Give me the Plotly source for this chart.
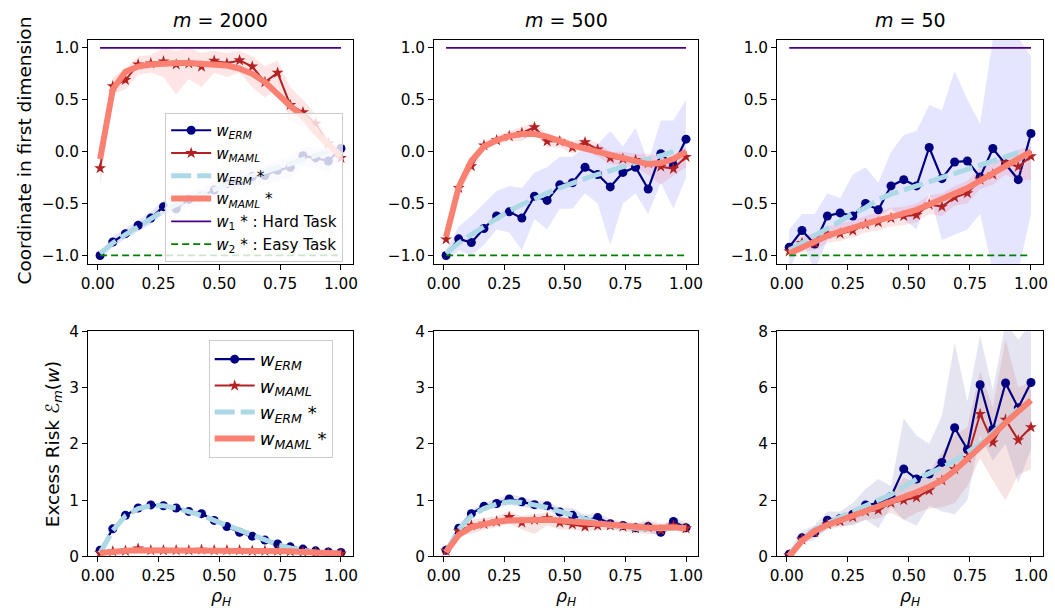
import plotly.graph_objects as go

# ---------------- data ----------------
RHO = [0.01, 0.0621, 0.1142, 0.1663, 0.2184, 0.2705, 0.3226, 0.3747, 0.4268, 0.4789,
       0.5311, 0.5832, 0.6353, 0.6874, 0.7395, 0.7916, 0.8437, 0.8958, 0.9479, 1.0]
RHO_ERM_STAR = RHO[:19]

TITLES = ["<i>m</i> = 2000", "<i>m</i> = 500", "<i>m</i> = 50"]
X_TICKS = [0.0, 0.25, 0.5, 0.75, 1.0]
Y_TICKS_TOP = [-1.0, -0.5, 0.0, 0.5, 1.0]
Y_TICKS_BOT = [0, 1, 2, 3, 4]
Y_TICKS_BOT_R = [0, 2, 4, 6, 8]
W1_STAR = 1.0   # hard task
W2_STAR = -1.0  # easy task

# top row: coordinate in first dimension
erm_2000 = [-1.0, -0.87, -0.79, -0.71, -0.64, -0.53, -0.55, -0.46, -0.43, -0.37, -0.31, -0.28, -0.24, -0.23, -0.18, -0.15, -0.04, -0.06, -0.09, 0.03]
erm_2000_lo = [-1.03, -0.92, -0.84, -0.77, -0.70, -0.60, -0.62, -0.53, -0.51, -0.45, -0.40, -0.37, -0.33, -0.32, -0.28, -0.25, -0.14, -0.16, -0.20, -0.06]
erm_2000_hi = [-0.97, -0.82, -0.74, -0.66, -0.58, -0.47, -0.48, -0.39, -0.35, -0.29, -0.22, -0.19, -0.15, -0.14, -0.08, -0.05, 0.05, 0.04, 0.02, 0.10]
erm_star_2000 = [-0.98, -0.88, -0.80, -0.72, -0.64, -0.57, -0.51, -0.46, -0.41, -0.36, -0.31, -0.27, -0.23, -0.19, -0.15, -0.11, -0.07, -0.04, 0.0]
maml_2000 = [-0.16, 0.63, 0.69, 0.84, 0.85, 0.87, 0.84, 0.85, 0.82, 0.875, 0.85, 0.88, 0.82, 0.67, 0.76, 0.45, 0.38, 0.27, 0.08, -0.06]
maml_2000_lo = [-0.33, 0.55, 0.60, 0.74, 0.76, 0.72, 0.55, 0.70, 0.62, 0.76, 0.72, 0.76, 0.62, 0.52, 0.62, 0.30, 0.25, 0.15, -0.02, -0.10]
maml_2000_hi = [0.05, 0.72, 0.80, 0.92, 0.93, 1.0, 0.97, 1.0, 0.95, 0.97, 0.95, 0.97, 0.92, 0.82, 0.88, 0.62, 0.50, 0.36, 0.12, 0.0]
maml_star_2000 = [-0.07, 0.60, 0.77, 0.82, 0.84, 0.85, 0.855, 0.855, 0.85, 0.845, 0.83, 0.80, 0.75, 0.67, 0.55, 0.44, 0.34, 0.19, 0.07, -0.04]

erm_500 = [-1.0, -0.84, -0.875, -0.74, -0.62, -0.58, -0.64, -0.43, -0.47, -0.32, -0.30, -0.15, -0.22, -0.34, -0.20, -0.15, -0.36, -0.02, -0.13, 0.12]
erm_500_lo = [-1.05, -0.95, -1.0, -0.9, -0.75, -0.78, -0.95, -0.65, -0.75, -0.55, -0.55, -0.40, -0.50, -0.90, -0.50, -0.40, -0.60, -0.30, -0.55, -0.25]
erm_500_hi = [-0.95, -0.72, -0.62, -0.50, -0.38, -0.33, -0.35, -0.20, -0.15, -0.05, -0.05, 0.05, 0.07, 0.20, 0.05, 0.23, -0.10, 0.30, 0.30, 0.50]
erm_star_500 = [-0.98, -0.88, -0.80, -0.72, -0.64, -0.57, -0.51, -0.45, -0.40, -0.35, -0.30, -0.26, -0.22, -0.18, -0.14, -0.11, -0.07, -0.04, 0.0]
maml_500 = [-0.845, -0.35, -0.14, 0.06, 0.11, 0.15, 0.18, 0.235, 0.10, 0.10, 0.04, 0.09, 0.02, -0.06, -0.07, -0.08, -0.11, -0.145, -0.165, -0.05]
maml_500_lo = [-0.89, -0.40, -0.20, 0.01, 0.07, 0.10, 0.10, 0.18, 0.04, 0.04, -0.02, 0.03, -0.05, -0.12, -0.14, -0.15, -0.22, -0.32, -0.23, -0.15]
maml_500_hi = [-0.80, -0.30, -0.08, 0.10, 0.15, 0.20, 0.24, 0.28, 0.16, 0.15, 0.10, 0.13, 0.08, 0.0, 0.0, -0.02, -0.02, -0.05, -0.10, 0.05]
maml_star_500 = [-0.82, -0.34, -0.09, 0.05, 0.11, 0.15, 0.17, 0.17, 0.145, 0.10, 0.06, 0.03, 0.0, -0.04, -0.07, -0.10, -0.12, -0.11, -0.07, 0.0]

erm_50 = [-0.92, -0.76, -0.89, -0.62, -0.59, -0.62, -0.50, -0.56, -0.33, -0.27, -0.33, 0.04, -0.26, -0.10, -0.09, -0.245, 0.03, -0.12, -0.27, 0.175]
erm_50_lo = [-1.15, -0.85, -1.15, -0.85, -0.80, -0.70, -0.68, -0.63, -0.55, -0.65, -0.75, -0.40, -0.85, -0.80, -0.75, -0.60, -1.15, -1.15, -1.15, -0.60]
erm_50_hi = [-0.75, -0.60, -0.60, -0.40, -0.45, -0.22, -0.15, -0.30, 0.0, 0.16, 0.20, 0.45, 0.40, 0.78, 0.50, 0.27, 1.08, 1.10, 1.10, 0.92]
erm_star_50 = [-0.95, -0.88, -0.80, -0.73, -0.66, -0.60, -0.54, -0.46, -0.41, -0.37, -0.33, -0.29, -0.24, -0.20, -0.16, -0.12, -0.08, -0.04, -0.01]
maml_50 = [-0.96, -0.88, -0.885, -0.79, -0.79, -0.76, -0.70, -0.68, -0.64, -0.62, -0.61, -0.51, -0.53, -0.44, -0.40, -0.27, -0.22, -0.105, -0.145, -0.045]
maml_50_lo = [-1.02, -0.97, -0.95, -0.88, -0.86, -0.83, -0.78, -0.76, -0.72, -0.71, -0.68, -0.60, -0.62, -0.52, -0.50, -0.36, -0.32, -0.22, -0.28, -0.27]
maml_50_hi = [-0.90, -0.82, -0.78, -0.72, -0.69, -0.66, -0.62, -0.58, -0.54, -0.53, -0.50, -0.42, -0.40, -0.33, -0.28, -0.15, -0.12, -0.03, 0.02, 0.05]
maml_star_50 = [-0.98, -0.92, -0.86, -0.81, -0.77, -0.73, -0.69, -0.66, -0.63, -0.60, -0.56, -0.51, -0.46, -0.41, -0.35, -0.28, -0.21, -0.14, -0.07, 0.0]

# bottom row: excess risk
risk_erm_2000 = [0.11, 0.49, 0.73, 0.86, 0.915, 0.90, 0.86, 0.80, 0.76, 0.64, 0.53, 0.43, 0.36, 0.29, 0.22, 0.17, 0.13, 0.10, 0.08, 0.07]
risk_erm_2000_lo = [0.09, 0.46, 0.70, 0.83, 0.88, 0.87, 0.83, 0.77, 0.73, 0.61, 0.50, 0.40, 0.33, 0.26, 0.19, 0.14, 0.11, 0.08, 0.06, 0.05]
risk_erm_2000_hi = [0.13, 0.52, 0.76, 0.89, 0.95, 0.93, 0.89, 0.83, 0.79, 0.67, 0.56, 0.46, 0.39, 0.32, 0.25, 0.20, 0.15, 0.12, 0.10, 0.09]
risk_erm_star_2000 = [0.06, 0.46, 0.72, 0.85, 0.90, 0.90, 0.86, 0.80, 0.73, 0.64, 0.55, 0.46, 0.37, 0.29, 0.21, 0.15, 0.10, 0.07, 0.05]
risk_maml_2000 = [0.06, 0.09, 0.10, 0.14, 0.11, 0.11, 0.11, 0.11, 0.12, 0.11, 0.11, 0.11, 0.10, 0.10, 0.10, 0.09, 0.08, 0.07, 0.06, 0.05]
risk_maml_2000_lo = [0.04, 0.07, 0.08, 0.10, 0.09, 0.09, 0.09, 0.09, 0.09, 0.09, 0.09, 0.09, 0.08, 0.08, 0.08, 0.07, 0.06, 0.05, 0.04, 0.04]
risk_maml_2000_hi = [0.08, 0.11, 0.12, 0.17, 0.13, 0.13, 0.13, 0.13, 0.15, 0.13, 0.13, 0.13, 0.12, 0.12, 0.12, 0.11, 0.10, 0.09, 0.08, 0.07]
risk_maml_star_2000 = [0.06, 0.09, 0.10, 0.11, 0.11, 0.11, 0.11, 0.11, 0.11, 0.11, 0.10, 0.10, 0.10, 0.10, 0.09, 0.09, 0.08, 0.07, 0.06, 0.05]

risk_erm_500 = [0.11, 0.50, 0.76, 0.89, 0.94, 1.02, 0.97, 0.92, 0.90, 0.79, 0.73, 0.64, 0.69, 0.58, 0.55, 0.51, 0.53, 0.43, 0.62, 0.51]
risk_erm_500_lo = [0.08, 0.44, 0.70, 0.82, 0.86, 0.92, 0.88, 0.84, 0.82, 0.70, 0.62, 0.55, 0.60, 0.50, 0.48, 0.44, 0.44, 0.35, 0.54, 0.42]
risk_erm_500_hi = [0.14, 0.56, 0.82, 0.96, 1.02, 1.10, 1.06, 1.00, 0.98, 0.88, 0.86, 0.74, 0.78, 0.66, 0.62, 0.58, 0.62, 0.52, 0.70, 0.60]
risk_erm_star_500 = [0.08, 0.48, 0.72, 0.85, 0.93, 0.97, 0.96, 0.92, 0.87, 0.80, 0.73, 0.66, 0.60, 0.55, 0.52, 0.50, 0.49, 0.49, 0.50]
risk_maml_500 = [0.10, 0.45, 0.55, 0.58, 0.62, 0.70, 0.60, 0.65, 0.68, 0.60, 0.57, 0.53, 0.55, 0.55, 0.53, 0.50, 0.52, 0.47, 0.55, 0.50]
risk_maml_500_lo = [0.08, 0.38, 0.40, 0.48, 0.52, 0.58, 0.48, 0.40, 0.55, 0.48, 0.48, 0.45, 0.46, 0.48, 0.45, 0.42, 0.40, 0.40, 0.48, 0.40]
risk_maml_500_hi = [0.12, 0.50, 0.65, 0.68, 0.72, 0.80, 0.72, 0.75, 0.78, 0.70, 0.66, 0.62, 0.64, 0.62, 0.60, 0.58, 0.65, 0.58, 0.62, 0.58]
risk_maml_star_500 = [0.08, 0.38, 0.52, 0.58, 0.62, 0.64, 0.65, 0.65, 0.65, 0.64, 0.62, 0.60, 0.58, 0.56, 0.54, 0.52, 0.51, 0.51, 0.52, 0.50]

risk_erm_50 = [0.08, 0.66, 0.85, 1.29, 1.35, 1.50, 1.83, 1.89, 2.13, 3.11, 2.75, 2.93, 3.34, 4.57, 3.80, 6.10, 4.51, 6.16, 5.28, 6.18]
risk_erm_50_lo = [0.0, 0.45, 0.6, 1.0, 1.1, 1.1, 1.3, 1.0, 1.75, 1.3, 1.1, 1.8, 1.6, 1.5, 2.0, 4.3, 3.4, 4.0, 2.6, 3.8]
risk_erm_50_hi = [0.2, 0.9, 1.1, 1.6, 1.6, 1.9, 2.4, 2.75, 2.5, 4.9, 4.3, 4.0, 5.0, 7.6, 5.5, 7.85, 5.9, 8.3, 7.7, 8.3]
risk_erm_star_50 = [0.05, 0.60, 0.95, 1.20, 1.40, 1.60, 1.82, 2.00, 2.20, 2.48, 2.75, 2.95, 3.15, 3.40, 3.68, 4.00, 4.40, 4.85, 5.25]
risk_maml_50 = [0.05, 0.60, 0.85, 1.15, 1.25, 1.40, 1.60, 1.65, 1.90, 2.00, 2.10, 2.35, 2.70, 3.10, 3.50, 5.06, 4.05, 4.86, 4.13, 4.59]
risk_maml_50_lo = [0.0, 0.45, 0.70, 0.95, 1.05, 1.15, 1.30, 1.35, 1.55, 1.30, 1.55, 1.70, 1.75, 1.90, 2.50, 3.50, 2.70, 2.00, 2.90, 3.10]
risk_maml_50_hi = [0.15, 0.75, 1.0, 1.35, 1.45, 1.65, 1.85, 1.95, 2.25, 2.80, 2.60, 3.00, 3.70, 4.30, 4.60, 6.60, 5.30, 7.70, 6.00, 6.20]
risk_maml_star_50 = [0.0, 0.55, 0.90, 1.12, 1.28, 1.45, 1.62, 1.77, 1.92, 2.08, 2.28, 2.48, 2.70, 3.05, 3.45, 3.85, 4.30, 4.75, 5.15, 5.55]

# ---------------- style ----------------
FONT = "DejaVu Sans"
C_ERM, C_MAML, C_ERM_S, C_MAML_S = "#000080", "#b22222", "#add8e6", "#fa8072"
C_W1, C_W2 = "#4b0082", "#008000"
W, H = 1055, 613

COLS_PX = [(82, 350), (432, 699), (779, 1048)]
ROWS_PX = [(32, 263), (332, 564)]

panels = [
    dict(erm=erm_2000, lo=erm_2000_lo, hi=erm_2000_hi, es=erm_star_2000, maml=maml_2000, mlo=maml_2000_lo, mhi=maml_2000_hi, ms=maml_star_2000),
    dict(erm=erm_500, lo=erm_500_lo, hi=erm_500_hi, es=erm_star_500, maml=maml_500, mlo=maml_500_lo, mhi=maml_500_hi, ms=maml_star_500),
    dict(erm=erm_50, lo=erm_50_lo, hi=erm_50_hi, es=erm_star_50, maml=maml_50, mlo=maml_50_lo, mhi=maml_50_hi, ms=maml_star_50),
    dict(erm=risk_erm_2000, lo=risk_erm_2000_lo, hi=risk_erm_2000_hi, es=risk_erm_star_2000, maml=risk_maml_2000, mlo=risk_maml_2000_lo, mhi=risk_maml_2000_hi, ms=risk_maml_star_2000),
    dict(erm=risk_erm_500, lo=risk_erm_500_lo, hi=risk_erm_500_hi, es=risk_erm_star_500, maml=risk_maml_500, mlo=risk_maml_500_lo, mhi=risk_maml_500_hi, ms=risk_maml_star_500),
    dict(erm=risk_erm_50, lo=risk_erm_50_lo, hi=risk_erm_50_hi, es=risk_erm_star_50, maml=risk_maml_50, mlo=risk_maml_50_lo, mhi=risk_maml_50_hi, ms=risk_maml_star_50),
]

NAMES = {
    "erm": "<i>w<sub>ERM</sub></i>",
    "maml": "<i>w<sub>MAML</sub></i>",
    "es": "<i>w<sub>ERM</sub></i> *",
    "ms": "<i>w<sub>MAML</sub></i> *",
    "w1": "<i>w</i><sub>1</sub> * : Hard Task",
    "w2": "<i>w</i><sub>2</sub> * : Easy Task",
}

fig = go.Figure()
layout = {}

for i, p in enumerate(panels):
    k = i + 1
    xa, ya = ("x" if k == 1 else f"x{k}"), ("y" if k == 1 else f"y{k}")
    top = i < 3
    band_erm = "rgba(0,0,255,0.1)" if top else "rgba(0,0,128,0.1)"
    band_maml = "rgba(255,0,0,0.1)" if top else "rgba(178,34,34,0.12)"
    leg = "legend" if k == 1 else ("legend2" if k == 4 else None)
    show = leg is not None

    def add(tr, key=None):
        tr.update(xaxis=xa, yaxis=ya)
        if show and key is not None:
            tr.update(showlegend=True, name=NAMES[key], legend=leg)
        else:
            tr.update(showlegend=False)
        fig.add_trace(tr)

    add(go.Scatter(x=RHO + RHO[::-1], y=p["hi"] + p["lo"][::-1], fill="toself",
                   fillcolor=band_erm, line=dict(width=0), mode="lines", hoverinfo="skip"))
    add(go.Scatter(x=RHO + RHO[::-1], y=p["mhi"] + p["mlo"][::-1], fill="toself",
                   fillcolor=band_maml, line=dict(width=0), mode="lines", hoverinfo="skip"))
    add(go.Scatter(x=RHO, y=p["erm"], mode="lines+markers",
                   line=dict(color=C_ERM, width=2.2), marker=dict(symbol="circle", size=9, color=C_ERM)), "erm")
    add(go.Scatter(x=RHO, y=p["maml"], mode="lines+markers",
                   line=dict(color=C_MAML, width=2), marker=dict(symbol="star", size=9, color=C_MAML)), "maml")
    add(go.Scatter(x=RHO_ERM_STAR, y=p["es"], mode="lines",
                   line=dict(color=C_ERM_S, width=5, dash="20px,6px")), "es")
    add(go.Scatter(x=RHO, y=p["ms"], mode="lines",
                   line=dict(color=C_MAML_S, width=6)), "ms")
    if top:
        add(go.Scatter(x=RHO, y=[W1_STAR] * len(RHO), mode="lines",
                       line=dict(color=C_W1, width=1.8)), "w1")
        add(go.Scatter(x=RHO, y=[W2_STAR] * len(RHO), mode="lines",
                       line=dict(color=C_W2, width=1.8, dash="7px,4px")), "w2")

    c0, c1 = COLS_PX[i % 3]
    r0, r1 = ROWS_PX[0 if top else 1]
    axis_common = dict(showline=True, mirror=True, linecolor="black", linewidth=1,
                       ticks="outside", ticklen=5, tickcolor="black", showgrid=False,
                       zeroline=False, tickfont=dict(family=FONT, size=15.3, color="black"))
    layout["xaxis" if k == 1 else f"xaxis{k}"] = dict(
        axis_common, domain=[c0 / W, c1 / W], range=[-0.0395, 1.0495],
        tickvals=X_TICKS, tickformat=".2f", anchor=ya)
    if top:
        yr, yt, yf = [-1.085, 1.075], Y_TICKS_TOP, ".1f"
    else:
        yr = [0, 8] if i == 5 else [0, 4]
        yt = Y_TICKS_BOT_R if i == 5 else Y_TICKS_BOT
        yf = "d"
    layout["yaxis" if k == 1 else f"yaxis{k}"] = dict(
        axis_common, domain=[1 - r1 / H, 1 - r0 / H], range=yr,
        tickvals=yt, tickformat=yf, anchor=xa)

annotations = []
for j, t in enumerate(TITLES):
    c0, c1 = COLS_PX[j]
    annotations.append(dict(text=t, x=(c0 + c1) / 2 / W, y=1 - 11 / H, xref="paper", yref="paper",
                            showarrow=False, font=dict(family=FONT, size=19, color="black"),
                            xanchor="center", yanchor="middle"))
    annotations.append(dict(text="<i>ρ<sub>H</sub></i>", x=(c0 + c1) / 2 / W, y=1 - 606 / H,
                            xref="paper", yref="paper", showarrow=False,
                            font=dict(family=FONT, size=17.5, color="black"),
                            xanchor="center", yanchor="middle"))
annotations.append(dict(text="Coordinate in first dimension", x=18 / W, y=1 - 146 / H,
                        xref="paper", yref="paper", showarrow=False, textangle=-90,
                        font=dict(family=FONT, size=18.5, color="black"),
                        xanchor="center", yanchor="middle"))
annotations.append(dict(text="Excess Risk <i>ℰ<sub>m</sub></i>(<i>w</i>)", x=47 / W, y=1 - 448 / H,
                        xref="paper", yref="paper", showarrow=False, textangle=-90,
                        font=dict(family=FONT, size=18.5, color="black"),
                        xanchor="center", yanchor="middle"))

legend_common = dict(bgcolor="rgba(255,255,255,0.8)", bordercolor="#cccccc", borderwidth=1,
                     xref="paper", yref="paper", xanchor="left", yanchor="top",
                     itemwidth=40, tracegroupgap=0)
layout["legend"] = dict(legend_common, x=160 / W, y=1 - 107 / H,
                        font=dict(family=FONT, size=15.2, color="black"))
layout["legend2"] = dict(legend_common, x=204 / W, y=1 - 341 / H,
                         font=dict(family=FONT, size=18, color="black"))

fig.update_layout(width=W, height=H, margin=dict(l=0, r=0, t=0, b=0),
                  plot_bgcolor="white", paper_bgcolor="white",
                  font=dict(family=FONT, color="black"),
                  annotations=annotations, **layout)

fig.write_html("out.html", config={"displayModeBar": False},
               post_script="document.body.style.margin='0';")
